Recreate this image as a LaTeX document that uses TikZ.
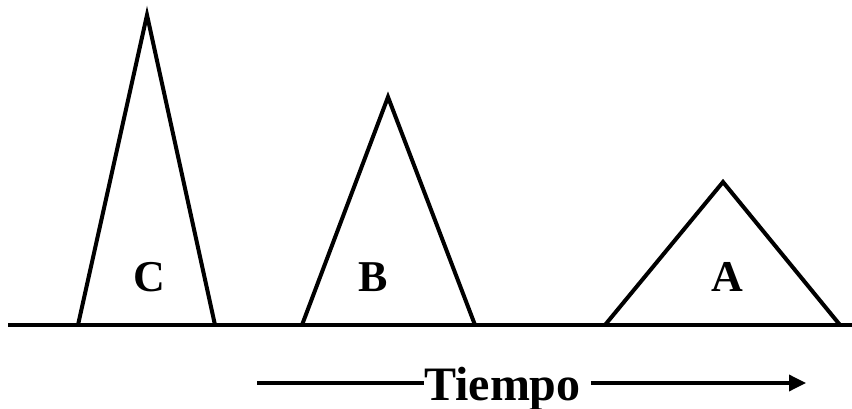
\documentclass[tikz,border=0pt]{standalone}
\usepackage{fontspec}
\setmainfont{Liberation Serif}
\usetikzlibrary{arrows.meta}
\begin{document}
\begin{tikzpicture}[x=1pt,y=-1pt,
  peak/.style={line width=4pt,line join=miter},
  lbl/.style={font=\fontsize{44}{44}\selectfont\bfseries,inner sep=0pt},
  tlbl/.style={font=\fontsize{48}{48}\selectfont\bfseries,inner sep=0pt}]
\useasboundingbox (0,0) rectangle (852,409);
\coordinate (b0) at (8,325);
\coordinate (b1) at (852,325);
\draw[line width=4pt] (b0) -- (b1);
\draw[peak] (78,325) -- (147,15) -- (215,325);
\draw[peak] (302,325) -- (388,97) -- (475,325);
\draw[peak] (605,325) -- (723,182) -- (840,325);
\node[lbl] (c) at (149,277) {C};
\node[lbl] (b) at (373,277) {B};
\node[lbl] (a) at (727,277) {A};
\node[tlbl,anchor=base west] (t) at (424,400) {Tiempo};
\coordinate (l0) at (257,383);
\coordinate (r1) at (806,383);
\draw[line width=3.5pt] (l0) -- (t.west |- l0);
\draw[line width=3.5pt,-{Triangle[length=17pt,width=16pt]}] ([xshift=10pt]t.east |- l0) -- (r1);
\end{tikzpicture}
\end{document}
